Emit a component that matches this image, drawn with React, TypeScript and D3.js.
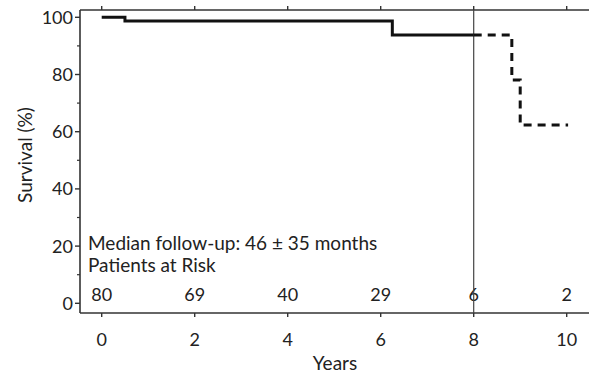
import React from "react";
import * as d3 from "d3";

const xTicks = [0, 2, 4, 6, 8, 10];
const yTicks = [0, 20, 40, 60, 80, 100];
const yMinorTicks = [10, 30, 50, 70, 90];
const atRisk = [80, 69, 40, 29, 6, 2];
const solidTimes = [0, 0.5, 6.25, 8];
const solidSurv = [100, 98.7, 93.8, 93.8];
const dashTimes = [8, 8.82, 9.0, 10.03];
const dashSurv = [93.8, 78.1, 62.3, 62.3];

const W = 589;
const H = 374;
const FONT = "Lato, 'Open Sans', sans-serif";

export default function App() {
  const x = d3.scaleLinear().domain([0, 10]).range([101.7, 566.7]);
  const y = d3.scaleLinear().domain([0, 100]).range([303.3, 17.3]);
  const left = 80, top = 10, bottom = 313, right = 589;
  const line = d3
    .line<[number, number]>()
    .x((d) => x(d[0]))
    .y((d) => y(d[1]))
    .curve(d3.curveStepAfter);
  const solid = solidTimes.map((t, i) => [t, solidSurv[i]] as [number, number]);
  const dashed = dashTimes.map((t, i) => [t, dashSurv[i]] as [number, number]);
  const axisColor = "#333";
  const textColor = "#222";
  return (
    <svg
      width={W}
      height={H}
      style={{ position: "absolute", left: 0, top: 0, background: "#fff" }}
      fontFamily={FONT}
    >
      <rect width={W} height={H} fill="#fff" />
      {/* axes */}
      <line x1={left} x2={left} y1={top} y2={bottom} stroke={axisColor} strokeWidth={1.6} />
      <line x1={left} x2={right} y1={bottom} y2={bottom} stroke={axisColor} strokeWidth={1.6} />
      <line x1={left} x2={right} y1={top} y2={top} stroke={axisColor} strokeWidth={1.6} />
      {yTicks.map((t) => (
        <g key={"y" + t}>
          <line x1={left - 5} x2={left} y1={y(t)} y2={y(t)} stroke={axisColor} strokeWidth={1.4} />
          <text x={left - 7} y={y(t)} dy="0.36em" textAnchor="end" fontSize={18} fill={textColor}>
            {t}
          </text>
        </g>
      ))}
      {yMinorTicks.map((t) => (
        <line key={"ym" + t} x1={left - 3} x2={left} y1={y(t)} y2={y(t)} stroke={axisColor} strokeWidth={1.2} />
      ))}
      {xTicks.map((t, i) => (
        <g key={"x" + t}>
          <line x1={x(t)} x2={x(t)} y1={bottom} y2={bottom + 4} stroke={axisColor} strokeWidth={1.4} />
          <line x1={x(t)} x2={x(t)} y1={top - 4} y2={top} stroke={axisColor} strokeWidth={1.4} />
          <text x={x(t)} y={346} textAnchor="middle" fontSize={18} fill={textColor}>
            {t}
          </text>
          <text x={x(t)} y={301} textAnchor="middle" fontSize={18} fill={textColor}>
            {atRisk[i]}
          </text>
        </g>
      ))}
      {/* vertical reference line */}
      <line x1={x(8)} x2={x(8)} y1={top} y2={bottom} stroke="#444" strokeWidth={1.2} />
      {/* curves */}
      <path d={line(solid) ?? ""} fill="none" stroke="#111" strokeWidth={3} />
      <path d={line(dashed) ?? ""} fill="none" stroke="#111" strokeWidth={3} strokeDasharray="8,6" />
      {/* annotations */}
      <text x={88} y={250} fontSize={19} fill={textColor}>
        Median follow-up: 46 ± 35 months
      </text>
      <text x={88} y={272} fontSize={19} fill={textColor}>
        Patients at Risk
      </text>
      <text x={335} y={370} textAnchor="middle" fontSize={19} fill={textColor}>
        Years
      </text>
      <text
        transform={`translate(32,155) rotate(-90)`}
        textAnchor="middle"
        fontSize={19}
        fill={textColor}
      >
        Survival (%)
      </text>
    </svg>
  );
}
